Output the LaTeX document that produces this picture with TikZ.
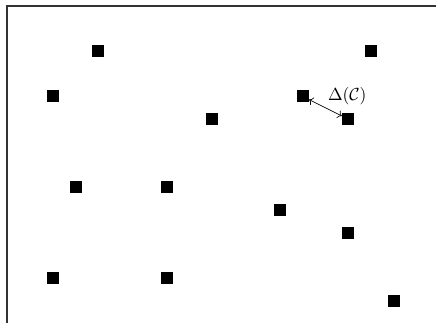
\documentclass[tikz,border=0pt]{standalone}
\usepackage{amsmath}
\usepackage{amssymb}
\usetikzlibrary{arrows.meta,positioning}

\begin{document}
\begin{tikzpicture}[
  x=0.5cm, y=0.5cm,
  site/.style={rectangle, fill=black, inner sep=0pt, minimum size=0.264cm},
  frame/.style={draw=black!80, line width=0.8pt},
  arr/.style={<->, line width=0.4pt}
]
\useasboundingbox (0,0) rectangle (19.207,-14.229);
\draw[frame] (0.308,-14.229) |- (19.207,-0.264);

\begin{scope}[shift={(2.335,-2.247)}]
\node[site] (s1) at (2,0) {};
\node[site] (s2) at (0,-2) {};
\node[site] (s3) at (14,0) {};
\node[site] (s4) at (11,-2) {};
\node[site] (s5) at (7,-3) {};
\node[site] (s6) at (13,-3) {};
\node[site] (s7) at (1,-6) {};
\node[site] (s8) at (5,-6) {};
\node[site] (s9) at (10,-7) {};
\node[site] (s10) at (13,-8) {};
\node[site] (s11) at (0,-10) {};
\node[site] (s12) at (5,-10) {};
\node[site] (s13) at (15,-11) {};
\end{scope}

\draw[arr] (s4) -- (s6) node[midway, above right, inner sep=1.5pt, font=\fontsize{11}{13}\selectfont] (delta) {$\Delta(\mathcal{C})$};
\end{tikzpicture}
\end{document}
